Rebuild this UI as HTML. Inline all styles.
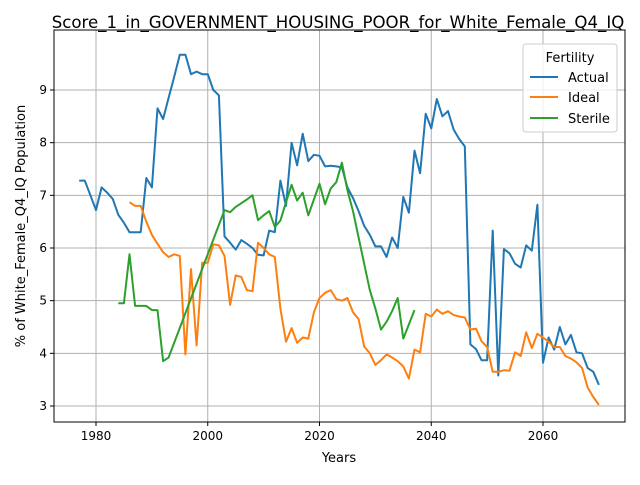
<!DOCTYPE html>
<html><head><meta charset="utf-8"><style>
body{margin:0;background:#fff;font-family:"Liberation Sans","DejaVu Sans",sans-serif}
svg text{font-family:"DejaVu Sans","Liberation Sans",sans-serif}
</style></head><body>
<svg id="chart" width="640" height="480" xmlns="http://www.w3.org/2000/svg">
<rect width="640" height="480" fill="#fff"/>
<text x="338" y="28" text-anchor="middle" font-size="16.6">Score_1_in_GOVERNMENT_HOUSING_POOR_for_White_Female_Q4_IQ</text>
<g id="grid"></g>
<g id="series"></g>
<rect x="54" y="30" width="571" height="392" fill="none" stroke="#000" stroke-width="1"/>
<g id="ticks"></g>
<text x="339" y="462" text-anchor="middle" font-size="13">Years</text>
<text transform="translate(25,226) rotate(-90)" text-anchor="middle" font-size="13">% of White_Female_Q4_IQ Population</text>
<g>
<rect x="523" y="44" width="94" height="88" fill="#fff" fill-opacity="0.8" stroke="#ccc" rx="3"/>
<text x="570" y="62" text-anchor="middle" font-size="13">Fertility</text>
<g><line x1="530" y1="77" x2="558" y2="77" stroke="#1f77b4" stroke-width="2"/><text x="568" y="82" font-size="13">Actual</text></g>
<g><line x1="530" y1="97" x2="558" y2="97" stroke="#ff7f0e" stroke-width="2"/><text x="568" y="102" font-size="13">Ideal</text></g>
<g><line x1="530" y1="118" x2="558" y2="118" stroke="#2ca02c" stroke-width="2"/><text x="568" y="123" font-size="13">Sterile</text></g>
</g>
</svg>
<script>
const xTicks=[1980,2000,2020,2040,2060];
const yTicks=[3,4,5,6,7,8,9];
const actualStart=1977;
const actualValues=[7.28,7.28,7.0,6.72,7.15,7.05,6.93,6.63,6.48,6.3,6.3,6.3,7.33,7.15,8.65,8.45,8.85,9.25,9.67,9.67,9.3,9.35,9.3,9.3,9.0,8.9,6.22,6.1,5.97,6.15,6.08,6.0,5.87,5.86,6.33,6.3,7.28,6.8,8.0,7.57,8.17,7.65,7.77,7.75,7.55,7.56,7.55,7.53,7.15,6.95,6.7,6.42,6.25,6.03,6.03,5.83,6.2,6.0,6.97,6.67,7.85,7.42,8.55,8.27,8.83,8.5,8.6,8.25,8.07,7.93,4.17,4.08,3.87,3.87,6.33,3.58,5.98,5.9,5.7,5.63,6.05,5.95,6.82,3.82,4.3,4.07,4.5,4.17,4.35,4.02,4.0,3.72,3.65,3.4];
const idealStart=1986;
const idealValues=[6.87,6.8,6.8,6.5,6.25,6.08,5.92,5.83,5.88,5.85,3.98,5.6,4.15,5.72,5.72,6.07,6.05,5.85,4.92,5.48,5.45,5.2,5.18,6.1,6.0,5.88,5.83,4.85,4.22,4.48,4.2,4.3,4.28,4.78,5.05,5.15,5.2,5.03,5.0,5.05,4.78,4.65,4.13,4.0,3.78,3.87,3.98,3.92,3.85,3.75,3.52,4.07,4.02,4.75,4.7,4.83,4.75,4.8,4.73,4.7,4.68,4.45,4.47,4.23,4.12,3.65,3.65,3.68,3.67,4.02,3.95,4.4,4.1,4.37,4.3,4.22,4.12,4.12,3.95,3.9,3.83,3.72,3.35,3.17,3.02];
const sterileYears=[1984,1985,1986,1987,1988,1989,1990,1991,1992,1993,2003,2004,2005,2006,2007,2008,2009,2010,2011,2012,2013,2014,2015,2016,2017,2018,2019,2020,2021,2022,2023,2024,2025,2026,2027,2028,2029,2030,2031,2032,2033,2034,2035,2036,2037];
const sterileValues=[4.95,4.95,5.88,4.9,4.9,4.9,4.82,4.82,3.85,3.92,6.72,6.68,6.78,6.85,6.92,7.0,6.53,6.62,6.7,6.4,6.52,6.87,7.2,6.9,7.05,6.62,6.92,7.22,6.83,7.13,7.25,7.62,7.1,6.7,6.2,5.7,5.2,4.85,4.45,4.6,4.8,5.05,4.28,4.55,4.82];

const X=y=>96+(y-1980)*(447/80);
const Y=v=>406-(v-3)*(316/6);
const NS='http://www.w3.org/2000/svg';
const grid=document.getElementById('grid'),ticks=document.getElementById('ticks'),ser=document.getElementById('series');
function mk(tag,attrs,parent){const e=document.createElementNS(NS,tag);for(const k in attrs)e.setAttribute(k,attrs[k]);parent.appendChild(e);return e;}
xTicks.forEach(t=>{
  const g=mk('line',{x1:X(t),x2:X(t),y1:30,y2:422,stroke:'#b0b0b0','stroke-width':1},grid);
  
  
  mk('line',{x1:X(t),x2:X(t),y1:422,y2:426,stroke:'#000'},ticks);
  const tx=mk('text',{x:X(t),y:440,'text-anchor':'middle','font-size':12},ticks);
  tx.textContent=t;
  
  
});
yTicks.forEach(t=>{
  const g=mk('line',{x1:54,x2:625,y1:Y(t),y2:Y(t),stroke:'#b0b0b0','stroke-width':1},grid);
  
  
  mk('line',{x1:50,x2:54,y1:Y(t),y2:Y(t),stroke:'#000'},ticks);
  const tx=mk('text',{x:47,y:Y(t)+4,'text-anchor':'end','font-size':12},ticks);
  tx.textContent=t;
  
  
});
function line(years,vals,color,name){
  const pts=vals.map((v,i)=>X(years[i]).toFixed(1)+','+Y(v).toFixed(1)).join(' ');
  const p=mk('polyline',{points:pts,fill:'none',stroke:color,'stroke-width':2,'stroke-linejoin':'round'},ser);
  
  
}
line(actualValues.map((_,i)=>actualStart+i),actualValues,'#1f77b4','actual-line');
line(idealValues.map((_,i)=>idealStart+i),idealValues,'#ff7f0e','ideal-line');
line(sterileYears,sterileValues,'#2ca02c','sterile-line');
</script>
</body></html>
